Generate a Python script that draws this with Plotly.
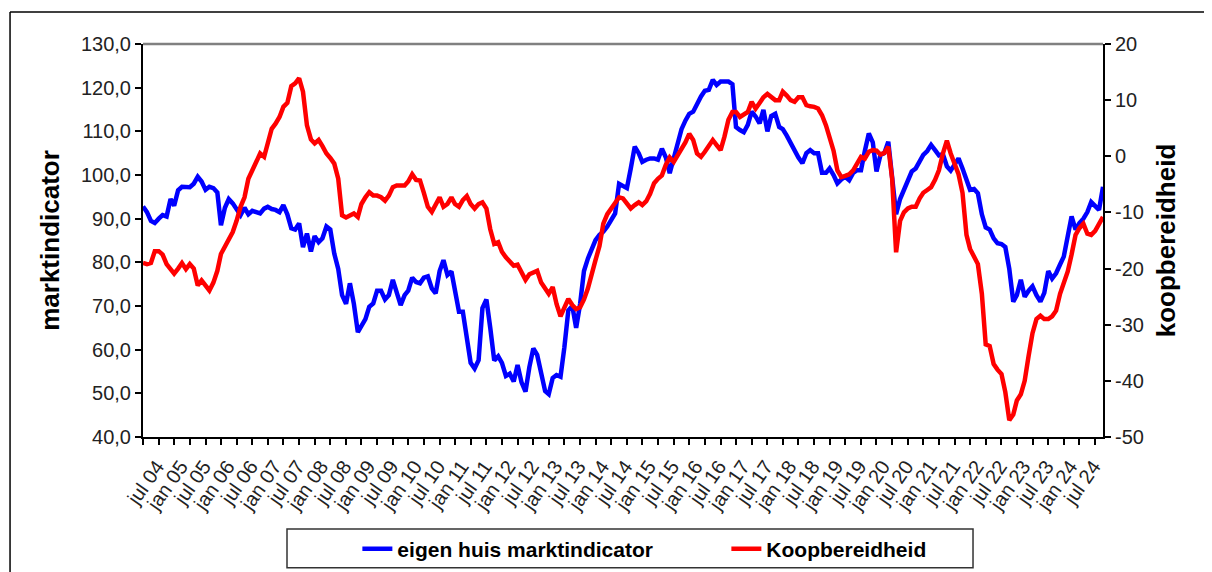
import pandas as pd
import plotly.graph_objects as go

BLUE = "#0000FF"
RED = "#FF0000"
FONT = "Liberation Sans"

# monthly, jul 2004 .. jan 2025
months = pd.date_range("2004-07-01", periods=247, freq="MS")
month_names = {1: "jan", 7: "jul"}
label_months = months[:241:6]
labels = [f"{month_names[d.month]} {d.strftime('%y')}" for d in label_months]

marktindicator = [
    92.8, 91.5, 89.5, 89.0, 90.0, 90.8, 90.5, 94.5, 93.0, 96.5,
    97.3, 97.3, 97.2, 98.0, 99.6, 98.5, 96.6, 97.3, 97.0, 96.0,
    88.5, 92.5, 94.5, 93.5, 92.0, 90.8, 92.5, 91.0, 91.8, 91.5,
    91.2, 92.3, 92.7, 92.2, 92.0, 91.5, 93.1, 91.0, 87.8, 87.5,
    88.9, 83.5, 86.6, 82.5, 86.0, 84.6, 85.5, 88.2, 87.5, 82.0,
    78.5, 72.5, 70.5, 75.2, 70.5, 64.0, 65.5, 67.0, 69.8, 70.6,
    73.5, 73.5, 71.5, 72.5, 76.0, 73.0, 70.2, 72.5, 73.5, 76.5,
    75.5, 75.2, 76.5, 76.8, 74.0, 72.9, 78.0, 80.5, 77.1, 77.9,
    73.0, 68.7, 68.7, 63.5, 57.0, 55.7, 57.6, 69.5, 71.5, 65.0,
    57.5, 58.5, 57.0, 54.0, 54.5, 52.7, 56.5, 52.5, 50.4, 56.0,
    60.3, 58.8, 54.5, 50.5, 49.8, 53.5, 54.2, 53.8, 60.5, 69.0,
    70.0, 65.0, 70.5, 78.0, 80.9, 83.0, 85.1, 86.3, 87.0, 88.2,
    89.5, 91.2, 98.0, 97.5, 97.0, 101.5, 106.5, 105.0, 103.0, 103.5,
    103.8, 103.8, 103.5, 106.0, 104.0, 100.4, 104.0, 107.5, 110.5, 112.5,
    114.0, 114.5, 116.4, 118.0, 119.3, 119.5, 121.8, 120.6, 121.4, 121.4,
    121.4, 120.8, 111.0, 110.3, 109.8, 111.5, 114.5, 113.4, 111.8, 114.9,
    110.0, 113.5, 114.0, 111.0, 110.5, 109.0, 107.3, 106.0, 104.0, 102.7,
    105.0, 105.7, 105.0, 105.0, 100.5, 100.5, 101.5, 100.0, 98.1, 99.0,
    99.6, 98.8, 100.5, 101.1, 101.1, 105.5, 109.5, 107.5, 100.8, 104.6,
    105.0, 107.6, 99.0, 91.0, 94.5, 96.5, 98.8, 100.8, 101.5, 103.0,
    104.6, 105.5, 106.9, 105.7, 104.5, 104.8, 102.0, 101.0, 102.7, 103.8,
    101.5, 98.5, 96.6, 96.8, 95.8, 91.0, 88.0, 87.5, 85.5, 84.4,
    84.2, 83.5, 78.5, 71.0, 72.5, 76.0, 72.1, 73.5, 74.5, 72.5,
    71.0, 73.0, 78.0, 76.3, 77.5, 79.5, 81.3, 86.0, 90.5, 87.5,
    89.0, 90.0, 91.5, 93.8, 93.0, 92.0, 97.3,
]

koopbereidheid = [
    -19.0, -19.2, -19.0, -16.9, -16.9, -17.5, -19.2, -20.0, -20.9, -20.0,
    -19.0, -20.1, -19.2, -20.0, -23.0, -22.1, -23.0, -23.9, -22.5, -20.4,
    -17.4, -16.0, -15.0, -13.5, -11.5, -9.0, -7.3, -4.0, -2.5, -1.0,
    0.5, -0.1, 2.5, 4.9, 5.8, 7.0, 8.8, 9.5, 12.5, 13.0,
    13.9, 11.5, 5.5, 3.0, 2.3, 2.9, 1.8, 0.5, -0.3, -1.3,
    -4.0, -10.5, -10.9, -10.5, -10.2, -10.8, -8.5, -7.3, -6.4, -7.0,
    -7.0, -7.3, -7.9, -7.0, -5.5, -5.2, -5.2, -5.2, -4.5, -3.2,
    -4.2, -4.3, -6.5, -9.0, -9.9, -8.5, -7.3, -9.0, -8.5, -7.3,
    -8.5, -9.0, -7.8, -7.1, -8.5, -9.3, -8.5, -8.2, -9.3, -13.0,
    -15.6, -15.3, -17.0, -18.0, -18.9, -19.5, -19.3, -20.5, -22.0, -21.0,
    -20.7, -20.4, -22.5, -23.5, -24.5, -23.3, -26.3, -28.5, -27.0, -25.4,
    -26.5, -27.2, -26.9, -25.5, -23.5, -20.5, -18.5, -16.0, -12.0, -10.3,
    -9.3, -8.2, -7.3, -7.5, -8.5, -9.3, -8.7, -8.2, -8.7, -8.0,
    -6.7, -4.8, -4.0, -3.4, -1.5, -0.2, -1.0, 0.2, 1.1, 2.5,
    4.0, 2.9, 0.5, -0.1, 0.8, 1.8, 2.9, 2.0, 1.1, 3.5,
    6.5, 7.9, 7.9, 7.0, 7.5, 7.9, 9.7, 8.5, 9.5, 10.5,
    11.1, 10.5, 10.0, 10.0, 11.5, 10.8, 10.0, 9.7, 10.5, 10.5,
    9.1, 8.9, 8.8, 8.5, 7.3, 5.5, 3.5, 1.0, -2.5, -3.7,
    -3.5, -3.2, -2.5, -1.2, -0.1, -0.4, 0.8, 1.1, 1.0, 0.3,
    0.6, 1.7, -4.0, -17.1, -11.5, -10.0, -9.3, -9.0, -9.0, -7.5,
    -6.5, -6.0, -5.5, -4.2, -2.5, 0.5, 2.8, 0.5, -1.7, -3.2,
    -6.5, -14.0, -16.5, -17.7, -19.2, -24.5, -33.5, -33.8, -37.0, -38.0,
    -38.8, -42.0, -47.0, -46.0, -43.5, -42.4, -40.0, -35.5, -31.5, -29.0,
    -28.4, -29.0, -29.0, -28.5, -27.5, -24.5, -22.5, -20.5, -17.5, -14.0,
    -12.8, -12.0, -13.8, -14.0, -13.3, -12.0, -10.8,
]

left_ticks = [40, 50, 60, 70, 80, 90, 100, 110, 120, 130]
right_ticks = [-50, -40, -30, -20, -10, 0, 10, 20]

fig = go.Figure()
fig.add_trace(go.Scatter(x=months, y=marktindicator, name="eigen huis marktindicator",
                         mode="lines", line=dict(color=BLUE, width=4.5)))
fig.add_trace(go.Scatter(x=months, y=koopbereidheid, name="Koopbereidheid",
                         mode="lines", line=dict(color=RED, width=4.5), yaxis="y2"))

# page body has an 8px margin, so the figure is 8px smaller and shifted up/left
fig.update_layout(
    width=1204, height=564,
    margin=dict(l=135, r=109, t=36, b=135, autoexpand=False),
    plot_bgcolor="white", paper_bgcolor="white",
    separators=",.",
    font=dict(family=FONT, size=20, color="#222222"),
    xaxis=dict(
        type="date", range=[months[0], months[-1]], automargin=False,
        tickmode="array", tickvals=label_months, ticktext=labels,
        tickangle=-55, ticks="", ticklabelshift=14, ticklabelstandoff=8,
        tickfont=dict(size=20),
        showline=True, linecolor="black", linewidth=2, showgrid=False, zeroline=False,
        minor=dict(tickmode="array", tickvals=months[::4], ticks="outside",
                   ticklen=6, tickcolor="black", tickwidth=1.5, showgrid=False),
    ),
    yaxis=dict(
        range=[40, 130], automargin=False,
        tickmode="array", tickvals=left_ticks, tickformat=".1f",
        ticks="outside", ticklen=6, tickcolor="black", tickwidth=1.5,
        showline=True, linecolor="black", linewidth=2, showgrid=False, zeroline=False,
        title=dict(text="marktindicator", standoff=14,
                   font=dict(size=26, weight="bold", color="black")),
    ),
    yaxis2=dict(
        overlaying="y", side="right", range=[-50, 20], automargin=False,
        tickmode="array", tickvals=right_ticks, ticktext=[str(v) for v in right_ticks],
        ticks="outside", ticklen=6, tickcolor="black", tickwidth=1.5,
        showline=True, linecolor="black", linewidth=2, showgrid=False, zeroline=False,
        title=dict(text="koopbereidheid", standoff=14,
                   font=dict(size=26, weight="bold", color="black")),
    ),
    legend=dict(
        orientation="h", x=0.2233, y=-0.285, xanchor="left", yanchor="middle",
        entrywidth=324, entrywidthmode="pixels",
        font=dict(size=21, weight="bold", color="black"),
        bgcolor="rgba(0,0,0,0)", borderwidth=0,
    ),
    shapes=[
        # grey top edge of plot area
        dict(type="line", xref="paper", yref="paper", x0=0, x1=1, y0=1, y1=1,
             line=dict(color="#808080", width=2.5)),
        # legend box
        dict(type="rect", xref="paper", yref="paper", x0=0.15, x1=0.8646,
             y0=-0.333, y1=-0.234, line=dict(color="#333333", width=1.5)),
        # outer chart border (top and left edges, the rest runs off the page)
        dict(type="line", xref="paper", yref="paper", x0=-0.1385, x1=1.2,
             y0=1.0814, y1=1.0814, line=dict(color="black", width=1.5)),
        dict(type="line", xref="paper", yref="paper", x0=-0.1385, x1=-0.1385,
             y0=-0.5, y1=1.0814, line=dict(color="black", width=1.5)),
    ],
)

fig.write_html("out.html")
